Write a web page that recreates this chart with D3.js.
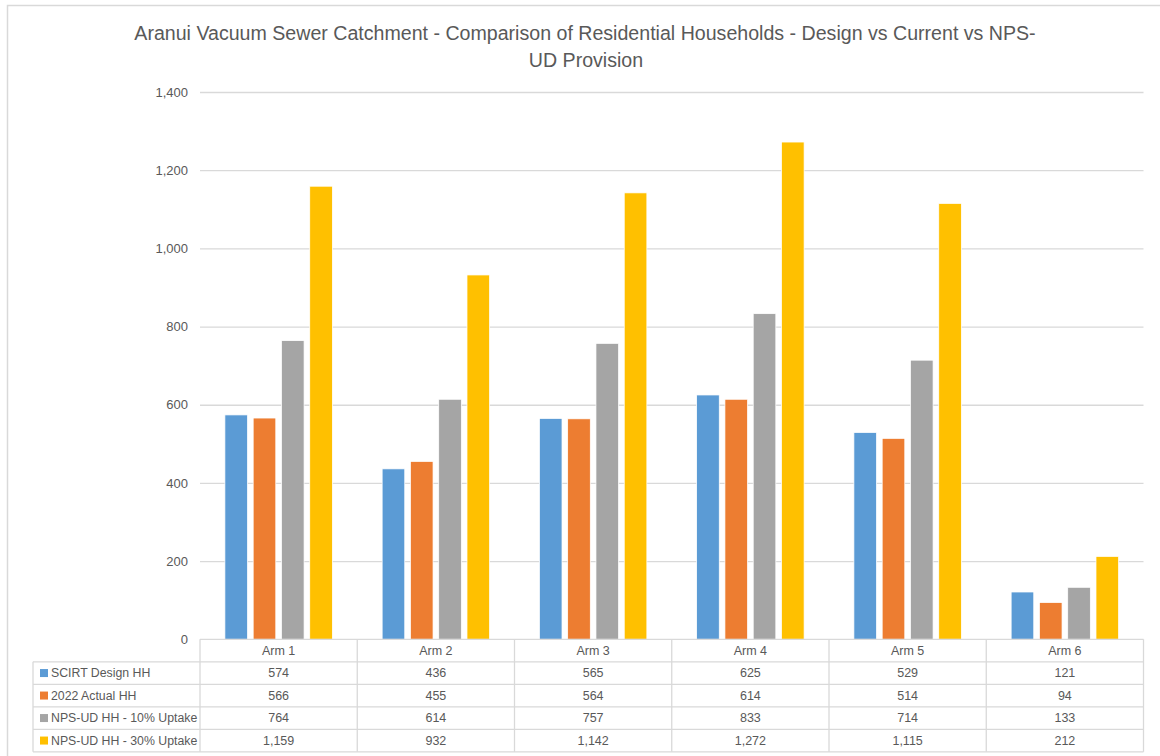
<!DOCTYPE html>
<html>
<head>
<meta charset="utf-8">
<script src="https://cdn.jsdelivr.net/npm/d3@7"></script>
<style>
  html, body { margin: 0; padding: 0; background: #ffffff; }
  svg { display: block; font-family: "Liberation Sans", Arial, sans-serif; }
</style>
</head>
<body>
<svg id="chart" width="1160" height="756"></svg>
<script>
// Households per vacuum sewer arm
const categories = ["Arm 1", "Arm 2", "Arm 3", "Arm 4", "Arm 5", "Arm 6"];
const seriesNames = ["SCIRT Design HH", "2022 Actual HH", "NPS-UD HH - 10% Uptake", "NPS-UD HH - 30% Uptake"];
const seriesColors = ["#5B9BD5", "#ED7D31", "#A5A5A5", "#FFC000"];
const scirtDesign = [574, 436, 565, 625, 529, 121];
const actual2022 = [566, 455, 564, 614, 514, 94];
const npsUd10 = [764, 614, 757, 833, 714, 133];
const npsUd30 = [1159, 932, 1142, 1272, 1115, 212];
const yTicks = [0, 200, 400, 600, 800, 1000, 1200, 1400];

const seriesValues = [scirtDesign, actual2022, npsUd10, npsUd30];

const svg = d3.select("#chart");
const textColor = "#595959";
const lineColor = "#D9D9D9";
const fmt = d3.format(",");

// chart frame
svg.append("rect")
  .attr("x", 7.5).attr("y", 5.5)
  .attr("width", 1170).attr("height", 780)
  .attr("fill", "#fff").attr("stroke", lineColor).attr("stroke-width", 1.5);

// title
const title = svg.append("text")
  .attr("text-anchor", "middle")
  .attr("fill", textColor)
  .attr("font-size", 19.6);
title.append("tspan").attr("x", 585).attr("y", 40)
  .text("Aranui Vacuum Sewer Catchment - Comparison of Residential Households - Design vs Current vs NPS-");
title.append("tspan").attr("x", 586).attr("y", 67)
  .text("UD Provision");

// plot area
const plotLeft = 200, plotRight = 1143.5, plotTop = 92, plotBottom = 639.3;

const y = d3.scaleLinear().domain([0, 1400]).range([plotBottom, plotTop]);
const x0 = d3.scaleBand().domain(categories).range([plotLeft, plotRight]).padding(0);
const step = x0.bandwidth();
// clustered bars: overlap -25%, gap width ~220%
const barW = step / (4 + 3 * 0.25 + 2.2);
const clusterW = 4 * barW + 3 * 0.25 * barW;
const off = (step - clusterW) / 2;
const x1 = d3.scaleBand().domain(d3.range(seriesNames.length))
  .range([off, off + clusterW]).paddingInner(0.2).paddingOuter(0);

// gridlines and y labels
const yAxis = d3.axisLeft(y).tickValues(yTicks).tickFormat(fmt)
  .tickSize(-(plotRight - plotLeft)).tickPadding(12);
const gy = svg.append("g").attr("transform", `translate(${plotLeft},0)`).call(yAxis);
gy.select(".domain").remove();
gy.selectAll(".tick line").attr("stroke", lineColor).attr("stroke-width", 1.3);
gy.selectAll(".tick text").attr("fill", textColor).attr("font-size", 13)
  .attr("font-family", "Liberation Sans, Arial, sans-serif");
gy.selectAll(".tick").filter(d => d === 0).select("line").remove();

// bars
const groups = svg.append("g").selectAll("g")
  .data(categories)
  .join("g")
  .attr("transform", d => `translate(${x0(d)},0)`);

groups.selectAll("rect")
  .data((d, i) => seriesValues.map((vals, s) => ({ s, v: vals[i] })))
  .join("rect")
  .attr("x", d => x1(d.s))
  .attr("width", x1.bandwidth())
  .attr("y", d => y(d.v))
  .attr("height", d => y(0) - y(d.v))
  .attr("fill", d => seriesColors[d.s])
  .attr("stroke", "#ffffff")
  .attr("stroke-width", 0.75);

// data table beneath the axis
const rowH = 22.5;
const legendLeft = 33;
const tbl = svg.append("g").attr("font-size", 12.5).attr("fill", textColor);

// horizontal lines
const hLines = d3.range(seriesNames.length + 2).map(i => plotBottom + i * rowH);
tbl.selectAll("line.h")
  .data(hLines)
  .join("line")
  .attr("x1", (d, i) => i === 0 ? plotLeft : legendLeft)
  .attr("x2", plotRight)
  .attr("y1", d => d).attr("y2", d => d)
  .attr("stroke", lineColor).attr("stroke-width", 1.3);
// legend column's left edge
tbl.append("line")
  .attr("x1", legendLeft).attr("x2", legendLeft)
  .attr("y1", plotBottom + rowH).attr("y2", plotBottom + rowH * (seriesNames.length + 1))
  .attr("stroke", lineColor).attr("stroke-width", 1.3);

// vertical lines
const vLines = categories.map(c => x0(c)).concat([plotRight]);
tbl.selectAll("line.v")
  .data(vLines)
  .join("line")
  .attr("x1", d => d).attr("x2", d => d)
  .attr("y1", plotBottom).attr("y2", plotBottom + rowH * (seriesNames.length + 1))
  .attr("stroke", lineColor).attr("stroke-width", 1.3);

// header labels
tbl.selectAll("text.cat")
  .data(categories)
  .join("text")
  .attr("x", d => x0(d) + step / 2)
  .attr("y", plotBottom + rowH / 2)
  .attr("dy", "0.35em")
  .attr("text-anchor", "middle")
  .text(d => d);

// series rows
seriesNames.forEach((name, s) => {
  const cy = plotBottom + rowH * (s + 1) + rowH / 2;
  tbl.append("rect")
    .attr("x", 40).attr("y", cy - 4)
    .attr("width", 8).attr("height", 8)
    .attr("fill", seriesColors[s]);
  tbl.append("text")
    .attr("x", 51).attr("y", cy).attr("dy", "0.35em")
    .attr("font-size", 12.3)
    .text(name);
  tbl.selectAll(null)
    .data(seriesValues[s])
    .join("text")
    .attr("x", (d, i) => x0(categories[i]) + step / 2)
    .attr("y", cy).attr("dy", "0.35em")
    .attr("text-anchor", "middle")
    .text(d => fmt(d));
});
</script>
</body>
</html>
